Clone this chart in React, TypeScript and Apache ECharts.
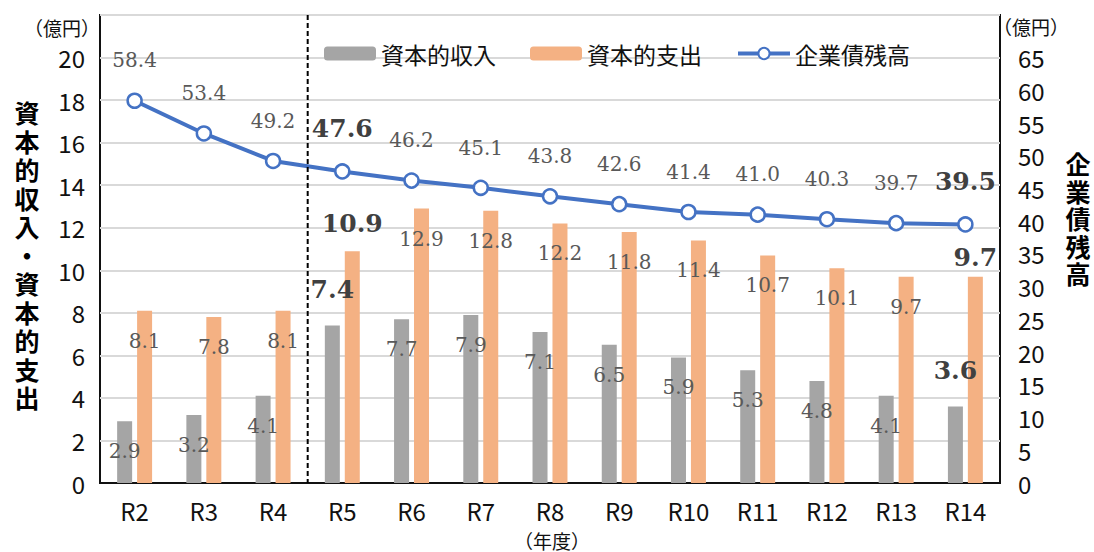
import React, { useEffect, useRef } from "react";
import * as echarts from "echarts";

const categories = ["R2", "R3", "R4", "R5", "R6", "R7", "R8", "R9", "R10", "R11", "R12", "R13", "R14"];
const capitalIncome = [2.9, 3.2, 4.1, 7.4, 7.7, 7.9, 7.1, 6.5, 5.9, 5.3, 4.8, 4.1, 3.6];
const capitalExpenditure = [8.1, 7.8, 8.1, 10.9, 12.9, 12.8, 12.2, 11.8, 11.4, 10.7, 10.1, 9.7, 9.7];
const bondBalance = [58.4, 53.4, 49.2, 47.6, 46.2, 45.1, 43.8, 42.6, 41.4, 41.0, 40.3, 39.7, 39.5];
const emphasized = ["R5", "R14"];
const seriesNames = ["資本的収入", "資本的支出", "企業債残高"];
const leftAxisName = "資本的収入・資本的支出";
const rightAxisName = "企業債残高";
const unitLabel = "（億円）";
const xAxisName = "（年度）";

const SERIF = "'DejaVu Serif', 'Liberation Serif', serif";
const SANS = "'Noto Sans CJK JP', 'Noto Sans', sans-serif";

const normalLabel = { fontFamily: SERIF, fontSize: 20, color: "#595959" };
const boldLabel = { fontFamily: SERIF, fontSize: 25, fontWeight: "bold", color: "#404040" };

function buildBarData(values: number[], boldDistance: number[]) {
  return values.map((v, i) => {
    const k = emphasized.indexOf(categories[i]);
    if (k < 0) return v;
    return {
      value: v,
      label: { ...boldLabel, position: "top", distance: boldDistance[k] },
    };
  });
}

function buildLineData(values: number[]) {
  return values.map((v, i) => {
    if (!emphasized.includes(categories[i])) return v;
    return { value: v, label: { ...boldLabel } };
  });
}

const NAME_SIZE = 25;
const BOX_W = 30;
const verticalStyle = (cx: number, cy: number, spacing: number, count: number): React.CSSProperties => {
  const h = count * (NAME_SIZE + spacing) + 8;
  return {
    position: "absolute",
    left: cx - BOX_W / 2,
    top: cy - h / 2 + 4,
    width: BOX_W,
    height: h,
    writingMode: "vertical-rl",
    textOrientation: "upright",
    fontFamily: SANS,
    fontWeight: "bold",
    fontSize: NAME_SIZE,
    lineHeight: `${BOX_W}px`,
    letterSpacing: spacing,
    color: "#000",
    whiteSpace: "nowrap",
    pointerEvents: "none",
  };
};

export default function App() {
  const ref = useRef<HTMLDivElement>(null);
  useEffect(() => {
    document.body.style.margin = "0";
    if (!ref.current) return;
    const chart = echarts.init(ref.current, undefined, { renderer: "svg" });
    const fmt = (p: any) => Number(p.value).toFixed(1);
    const axisText = { fontFamily: SANS, fontSize: 24, color: "#111" };
    const option: any = {
      animation: false,
      backgroundColor: "#fff",
      grid: {
        left: 100,
        right: 94,
        top: 15,
        bottom: 69,
        show: true,
        borderColor: "#111",
        borderWidth: 2,
        backgroundColor: "transparent",
      },
      legend: {
        left: 319,
        top: 37,
        itemWidth: 52,
        itemHeight: 14,
        itemGap: 34,
        lineStyle: { width: 4 },
        textStyle: { fontFamily: SANS, fontSize: 23, color: "#111" },
        data: [
          { name: seriesNames[0] },
          { name: seriesNames[1] },
          { name: seriesNames[2], lineStyle: { width: 4 } },
        ],
      },
      xAxis: {
        type: "category",
        data: categories,
        axisLine: { show: true, lineStyle: { color: "#111", width: 2 } },
        axisTick: { show: false },
        axisLabel: { ...axisText, margin: 15 },
      },
      yAxis: [
        {
          type: "value",
          min: 0,
          max: 22,
          interval: 2,
          axisLine: { show: false },
          axisTick: { show: false },
          splitLine: { lineStyle: { color: "#D9D9D9", width: 2 } },
          axisLabel: {
            ...axisText,
            margin: 15,
            formatter: (v: number) => (v <= 20 ? String(v) : ""),
          },
        },
        {
          type: "value",
          min: 0,
          max: 71.5,
          interval: 5,
          axisLine: { show: false },
          axisTick: { show: false },
          splitLine: { show: false },
          axisLabel: {
            ...axisText,
            margin: 18,
            formatter: (v: number) => (v <= 65 ? String(v) : ""),
          },
        },
      ],
      series: [
        {
          name: seriesNames[0],
          type: "bar",
          barWidth: 15,
          barGap: "33%",
          itemStyle: { color: "#A5A5A5" },
          label: { show: true, position: "insideTop", distance: 20, formatter: fmt, ...normalLabel },
          data: buildBarData(capitalIncome, [24, 23]),
          z: 2,
        },
        {
          name: seriesNames[1],
          type: "bar",
          barWidth: 15,
          itemStyle: { color: "#F4B183" },
          label: { show: true, position: "insideTop", distance: 20, formatter: fmt, ...normalLabel },
          data: buildBarData(capitalExpenditure, [15, 7]),
          z: 2,
        },
        {
          name: seriesNames[2],
          type: "line",
          yAxisIndex: 1,
          symbol: "circle",
          symbolSize: 14,
          lineStyle: { color: "#4472C4", width: 4 },
          itemStyle: { color: "#fff", borderColor: "#4472C4", borderWidth: 2.5 },
          label: { show: true, position: "top", distance: 22, formatter: fmt, ...normalLabel },
          data: buildLineData(bondBalance),
          z: 5,
        },
      ],
    };
    chart.setOption(option);

    const x4 = chart.convertToPixel({ xAxisIndex: 0 }, "R4") as number;
    const x5 = chart.convertToPixel({ xAxisIndex: 0 }, "R5") as number;
    const xDash = (x4 + x5) / 2;
    const yTop = 15;
    const yBottom = 552 - 69;

    chart.setOption({
      graphic: [
        {
          type: "line",
          shape: { x1: xDash, y1: yTop, x2: xDash, y2: yBottom },
          style: { stroke: "#000", lineWidth: 2, lineDash: [5, 3] },
          z: 10,
        },
        {
          type: "text",
          x: 62,
          y: 27,
          style: { text: unitLabel, font: `19px ${SANS}`, fill: "#111", textAlign: "center", textVerticalAlign: "middle" },
        },
        {
          type: "text",
          x: 1031,
          y: 26,
          style: { text: unitLabel, font: `19px ${SANS}`, fill: "#111", textAlign: "center", textVerticalAlign: "middle" },
        },
        {
          type: "text",
          x: 552,
          y: 540,
          style: { text: xAxisName, font: `19px ${SANS}`, fill: "#111", textAlign: "center", textVerticalAlign: "middle" },
        },
      ],
    });

    return () => chart.dispose();
  }, []);
  return (
    <div style={{ position: "relative", width: 1094, height: 552 }}>
      <div ref={ref} style={{ width: 1094, height: 552 }} />
      <div style={verticalStyle(27, 258, 3.5, leftAxisName.length)}>{leftAxisName}</div>
      <div style={verticalStyle(1078, 221, 2.5, rightAxisName.length)}>{rightAxisName}</div>
    </div>
  );
}
